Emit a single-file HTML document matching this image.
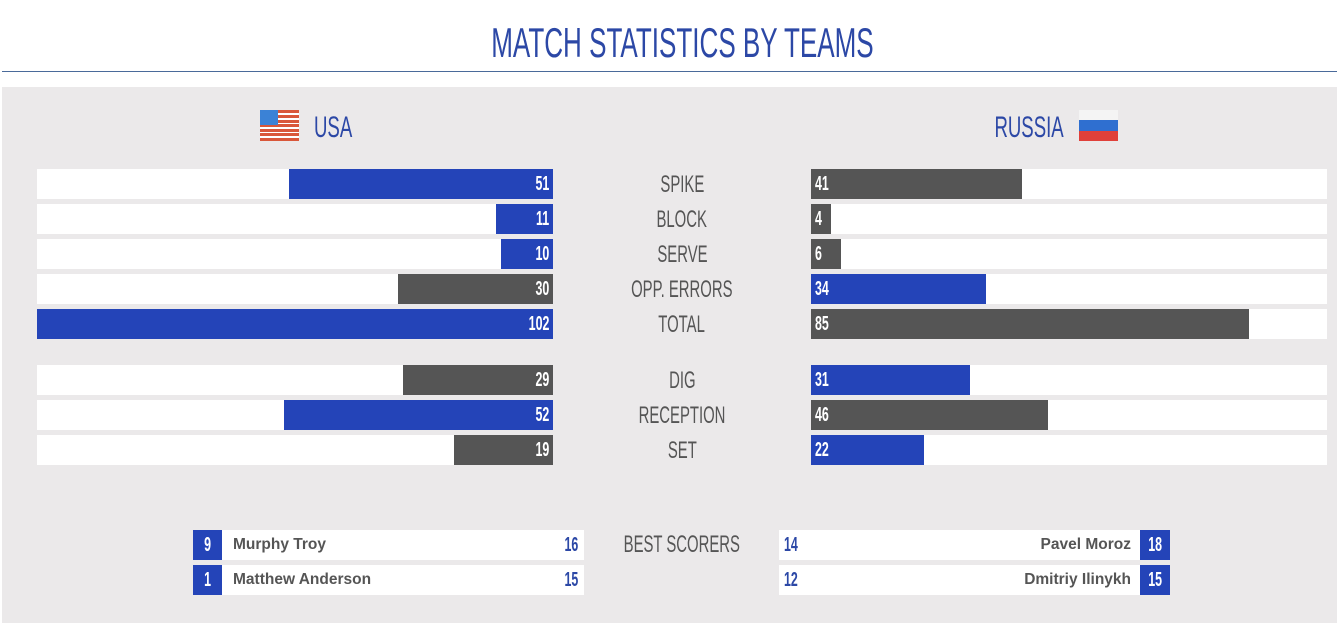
<!DOCTYPE html>
<html><head><meta charset="utf-8"><style>
*{margin:0;padding:0;box-sizing:border-box}
body{width:1337px;height:623px;background:#fff;position:relative;overflow:hidden;font-family:"Liberation Sans",sans-serif}
.a{position:absolute}
.n{display:inline-block;transform:scaleX(0.62);white-space:nowrap}
.title{left:14px;width:1337px;top:18px;text-align:center;color:#2c48a6;font-size:42px;line-height:50px}
.panel{left:2px;top:87px;width:1335px;height:536px;background:#ebe9ea}
.w{background:#fff;height:30px}
.bar{height:30px;color:#fff;font-size:20px;line-height:30px;font-weight:bold}
.bl{background:#2444b8}.gr{background:#555}
.lab{width:200px;left:582px;text-align:center;color:#555;font-size:24px;line-height:30px;height:30px}
.vl{position:absolute;right:4px;top:0}
.vr{position:absolute;left:4px;top:0}
.nm{font-weight:bold;color:#555;font-size:15.5px;line-height:30px}
</style></head><body>
<div class="a title"><span class="n" style="transform:scaleX(0.62)">MATCH STATISTICS BY TEAMS</span></div>
<div class="a" style="left:2px;top:71px;width:1335px;height:1px;background:#4a6a9a"></div>
<div class="a panel"></div>
<svg class="a" style="left:260px;top:110px" width="39" height="31"><rect width="39" height="31" fill="#fff"/><g fill="#d9573a"><rect y="0" width="39" height="3"/><rect y="5" width="39" height="3"/><rect y="10" width="39" height="3"/><rect y="14" width="39" height="3"/><rect y="19" width="39" height="3"/><rect y="23" width="39" height="3"/><rect y="28" width="39" height="3"/></g><rect width="18" height="15" fill="#3b82d6"/></svg>
<div class="a" style="left:314px;top:110px;color:#2c48a6;font-size:30px;line-height:36px"><span class="n" style="transform-origin:left">USA</span></div>
<div class="a" style="left:900px;width:164px;text-align:right;top:110px;color:#2c48a6;font-size:30px;line-height:36px"><span class="n" style="transform-origin:right">RUSSIA</span></div>
<svg class="a" style="left:1079px;top:110px" width="39" height="31"><rect width="39" height="10" fill="#f4f4f4"/><rect y="10" width="39" height="11" fill="#2f6fd0"/><rect y="21" width="39" height="10" fill="#e0403a"/></svg>
<div id="rows"></div>
<script>
var rows=[["SPIKE",51,264,"bl",41,211,"gr",169],["BLOCK",11,57,"bl",4,20,"gr",204],["SERVE",10,52,"bl",6,30,"gr",239],["OPP. ERRORS",30,155,"gr",34,175,"bl",274],["TOTAL",102,516,"bl",85,438,"gr",309],["DIG",29,150,"gr",31,159,"bl",365],["RECEPTION",52,269,"bl",46,237,"gr",400],["SET",19,99,"gr",22,113,"bl",435]];
var h="";rows.forEach(function(r){var y=r[7];
h+='<div class="a w" style="left:37px;top:'+y+'px;width:516px"></div>';
h+='<div class="a w" style="left:811px;top:'+y+'px;width:516px"></div>';
h+='<div class="a bar '+r[3]+'" style="left:'+(553-r[2])+'px;top:'+y+'px;width:'+r[2]+'px"><span class="vl"><span class="n" style="transform-origin:right">'+r[1]+'</span></span></div>';
h+='<div class="a bar '+r[6]+'" style="left:811px;top:'+y+'px;width:'+r[5]+'px"><span class="vr"><span class="n" style="transform-origin:left">'+r[4]+'</span></span></div>';
h+='<div class="a lab" style="top:'+(y+1)+'px"><span class="n">'+r[0]+'</span></div>';});
var s=[[530,"9","Murphy Troy","16","14","Pavel Moroz","18"],[565,"1","Matthew Anderson","15","12","Dmitriy Ilinykh","15"]];
s.forEach(function(r){var y=r[0];
h+='<div class="a w" style="left:193px;top:'+y+'px;width:391px"></div>';
h+='<div class="a bar bl" style="left:193px;top:'+y+'px;width:29px;text-align:center"><span class="n">'+r[1]+'</span></div>';
h+='<div class="a nm" style="left:233px;top:'+y+'px">'+r[2]+'</div>';
h+='<div class="a" style="left:540px;width:38px;text-align:right;top:'+y+'px;color:#2c48a6;font-size:20px;font-weight:bold;line-height:30px"><span class="n" style="transform-origin:right">'+r[3]+'</span></div>';
h+='<div class="a w" style="left:779px;top:'+y+'px;width:391px"></div>';
h+='<div class="a" style="left:784px;top:'+y+'px;color:#2c48a6;font-size:20px;font-weight:bold;line-height:30px"><span class="n" style="transform-origin:left">'+r[4]+'</span></div>';
h+='<div class="a nm" style="left:880px;width:251px;text-align:right;top:'+y+'px">'+r[5]+'</div>';
h+='<div class="a bar bl" style="left:1140px;top:'+y+'px;width:30px;text-align:center"><span class="n">'+r[6]+'</span></div>';});
h+='<div class="a lab" style="top:530px;"><span class="n">BEST SCORERS</span></div>';
document.getElementById("rows").innerHTML=h;
</script>
</body></html>
